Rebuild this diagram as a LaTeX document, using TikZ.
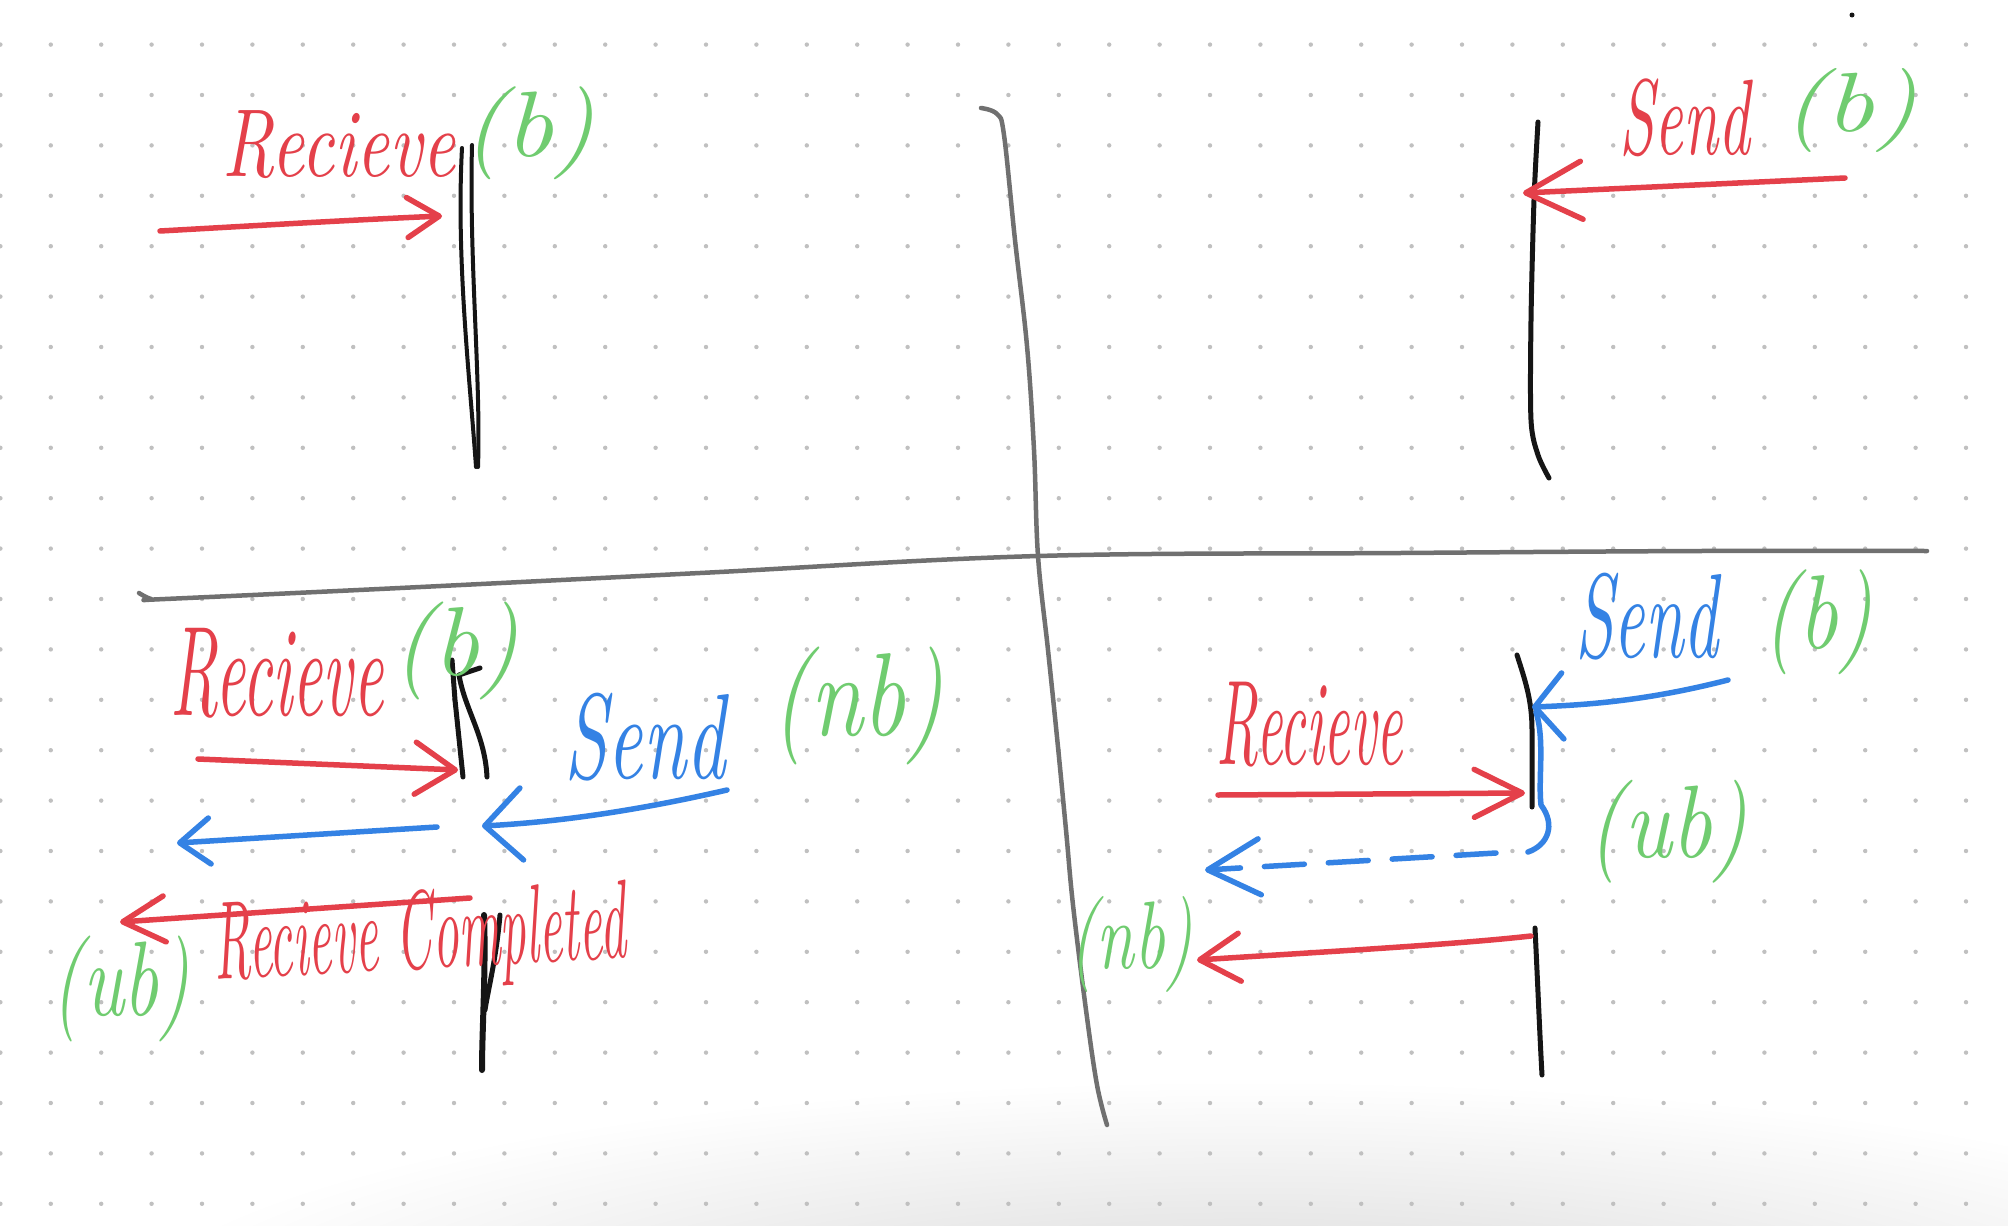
\documentclass[tikz,border=0pt]{standalone}
\usepackage{graphicx}
\usetikzlibrary{arrows.meta}
\definecolor{pred}{RGB}{228,64,74}
\definecolor{pgreen}{RGB}{112,204,112}
\definecolor{pblue}{RGB}{52,130,228}
\definecolor{pblack}{RGB}{21,21,21}
\definecolor{pgray}{RGB}{112,112,112}
\definecolor{pdot}{RGB}{192,192,192}
\newcommand{\fitbox}[3]{\resizebox*{#1pt}{#2pt}{\itshape #3}}
\begin{document}
\begin{tikzpicture}[x=1pt,y=-1pt,
  every node/.style={inner sep=0pt,outer sep=0pt},
  ink/.style={line width=5.5pt,line cap=round,line join=round},
  redink/.style={ink,draw=pred},
  blueink/.style={ink,draw=pblue},
  lifeline/.style={line width=5pt,line cap=round,line join=round,draw=pblack},
  divider/.style={line width=4.5pt,line cap=round,line join=round,draw=pgray},
  redtxt/.style={text=pred},
  greentxt/.style={text=pgreen},
  bluetxt/.style={text=pblue},
  barb/.style 2 args={-{Straight Barb[length=#1pt,width=#2pt,round]}}
]
\fill[white] (0,0) rectangle (2008,1226);
\useasboundingbox (0,0) rectangle (2008,1226);
\begin{scope}
  \clip (0,0) rectangle (2008,1226);
  \shade[inner color=black!16, outer color=white] (1250,1330) ellipse [x radius=1150pt, y radius=250pt];
\end{scope}
% dot grid
\foreach \i in {0,...,39}{\foreach \j in {0,...,23}{\fill[pdot] ({0.4+50.4*\i},{44.6+50.4*\j}) circle (2.2pt);}}
\fill[pblack] (1852,15) circle (2.5pt);

% dividers
\draw[divider] plot[smooth,tension=0.6] coordinates {(981,108) (997,114) (1004,135) (1015,240) (1027,346) (1034,450) (1038,556) (1048,650) (1057,737) (1066,830) (1073,905) (1086,1010) (1097,1085) (1107,1125)};
\draw[divider] plot[smooth,tension=0.6] coordinates {(139,593) (151,599) (165,599) (400,588) (700,573) (1038,556) (1400,553) (1700,551) (1927,551)};

% lifelines
\draw[lifeline,line width=4pt] (462,148) .. controls (456,260) and (470,380) .. (476,467);
\draw[lifeline,line width=4pt] (472,145) .. controls (469,260) and (481,380) .. (478,467);
\draw[lifeline] plot[smooth] coordinates {(1538,122) (1534,200) (1531,320) (1531,420) (1538,455) (1549,478)};
\draw[lifeline] (452,660) -- (455,700) -- (463,777);
\draw[lifeline] (480,668) -- (459,675) .. controls (465,710) and (485,735) .. (487,777);
\draw[lifeline,line width=6pt] (484,915) .. controls (486,970) and (482,1030) .. (482,1070);
\draw[lifeline] (500,915) .. controls (496,960) and (488,990) .. (485,1010);
\draw[lifeline] (1517,655) .. controls (1525,680) and (1532,700) .. (1532,730) -- (1532,807);
\draw[lifeline] (1535,928) .. controls (1538,990) and (1540,1040) .. (1542,1075);

% texts
\node[redtxt] (t1) at (339,145) {\fitbox{232}{68}{Recieve}};
\node[greentxt] (t2) at (529,133) {\fitbox{133}{93}{(b)}};
\node[redtxt] (t3) at (1685,118) {\fitbox{130}{78}{Send}};
\node[greentxt] (t4) at (1850,110) {\fitbox{135}{84}{(b)}};
\node[redtxt] (t5) at (277,673) {\fitbox{213}{90}{Recieve}};
\node[greentxt] (t6) at (456,651) {\fitbox{127}{98}{(b)}};
\node[bluetxt] (t7) at (645,737) {\fitbox{160}{88}{Send}};
\node[greentxt] (t8) at (858,706) {\fitbox{172}{118}{(nb)}};
\node[redtxt,rotate=3] (t9) at (420,940) {\fitbox{412}{100}{Recieve Completed}};
\node[greentxt] (t10) at (121,989) {\fitbox{138}{106}{(ub)}};
\node[redtxt] (t11) at (1310,725) {\fitbox{186}{85}{Recieve}};
\node[bluetxt] (t12) at (1647,617) {\fitbox{143}{87}{Send}};
\node[greentxt] (t13) at (1818,622) {\fitbox{110}{105}{(b)}};
\node[greentxt] (t14) at (1668,832) {\fitbox{160}{103}{(ub)}};
\node[greentxt] (t15) at (1131,944) {\fitbox{123}{96}{(nb)}};

% arrows
\coordinate (a1s) at (160,231); \coordinate (a1e) at (442,216);
\coordinate (a2s) at (1845,178); \coordinate (a2e) at (1523,193);
\coordinate (a3s) at (198,759); \coordinate (a3e) at (458,770);
\coordinate (a4s) at (727,790); \coordinate (a4e) at (482,826);
\coordinate (a5s) at (437,827); \coordinate (a5e) at (177,843);
\coordinate (a6s) at (470,898); \coordinate (a6e) at (120,922);
\coordinate (a7s) at (1218,795); \coordinate (a7e) at (1525,793);
\coordinate (a8s) at (1728,680); \coordinate (a8e) at (1532,707);
\coordinate (a9s) at (1536,712); \coordinate (a9e) at (1528,852);
\coordinate (a10s) at (1496,853); \coordinate (a10e) at (1205,870);
\coordinate (a11s) at (1531,936); \coordinate (a11e) at (1197,960);

\draw[redink,barb={32}{40}] (a1s) .. controls (250,226) and (350,220) .. (a1e);
\draw[redink,barb={56}{58}] (a2s) -- (a2e);
\draw[redink,barb={40}{52}] (a3s) -- (a3e);
\draw[blueink,barb={37}{72}] (a4s) .. controls (640,810) and (560,822) .. (a4e);
\draw[blueink,barb={30}{46}] (a5s) -- (a5e);
\draw[redink,barb={42}{46}] (a6s) -- (a6e);
\draw[redink,barb={48}{48}] (a7s) -- (a7e);
\draw[blueink,barb={28}{66}] (a8s) .. controls (1650,700) and (1590,705) .. (a8e);
\draw[blueink] (a9s) .. controls (1545,740) and (1538,780) .. (1541,805) .. controls (1556,825) and (1548,845) .. (a9e);
\draw[blueink,dash pattern=on 40pt off 24pt,barb={52}{56}] (a10s) -- (a10e);
\draw[redink,barb={40}{48}] (a11s) .. controls (1450,945) and (1320,952) .. (a11e);
\end{tikzpicture}
\end{document}
